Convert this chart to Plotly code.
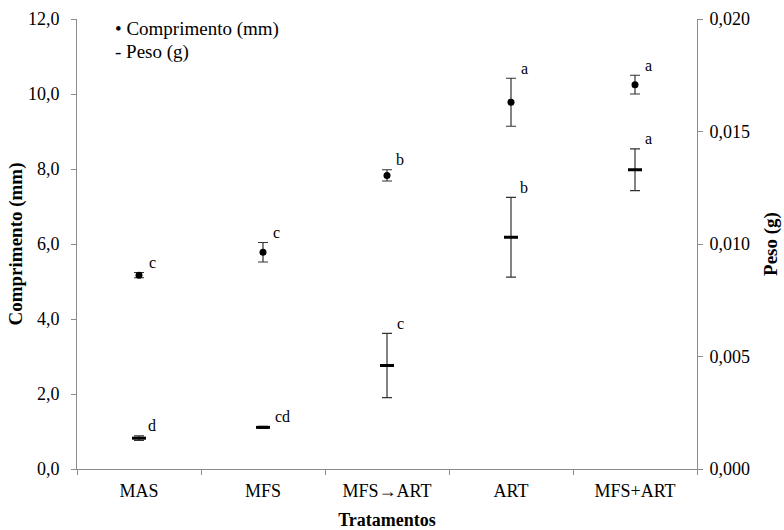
import plotly.graph_objects as go

categories = ["MAS", "MFS", "MFS→ART", "ART", "MFS+ART"]
comprimento = [5.17, 5.78, 7.83, 9.78, 10.25]
comprimento_err = [0.07, 0.26, 0.15, 0.64, 0.25]
comprimento_letras = ["c", "c", "b", "a", "a"]
peso = [0.00137, 0.00185, 0.0046, 0.0103, 0.0133]
peso_err = [0.0001, 0.00005, 0.00143, 0.00177, 0.00093]
peso_letras = ["d", "cd", "c", "b", "a"]

FONT = "Liberation Serif"
ERRC = "#333333"

fig = go.Figure()
fig.add_trace(go.Scatter(
    x=categories, y=comprimento, mode="markers",
    marker=dict(symbol="circle", size=7, color="black"),
    error_y=dict(type="data", array=comprimento_err, color=ERRC, thickness=1.2, width=5),
    showlegend=False, yaxis="y"))
fig.add_trace(go.Scatter(
    x=categories, y=peso, mode="markers",
    marker=dict(symbol="line-ew", size=10, line=dict(width=3, color="black")),
    error_y=dict(type="data", array=peso_err, color=ERRC, thickness=1.2, width=5),
    showlegend=False, yaxis="y2"))

ann = []
for c, v, e, t in zip(categories, comprimento, comprimento_err, comprimento_letras):
    ann.append(dict(x=c, y=v + e, xref="x", yref="y", text=t, showarrow=False,
                    xshift=13, yshift=10, font=dict(family=FONT, size=16, color="black")))
for c, v, e, t in zip(categories, peso, peso_err, peso_letras):
    ann.append(dict(x=c, y=v + e, xref="x", yref="y2", text=t, showarrow=False,
                    xshift=13 if len(t) == 1 else 19, yshift=10,
                    font=dict(family=FONT, size=16, color="black")))
ann.append(dict(x=0.058, y=0.978, xref="paper", yref="paper", xanchor="left", yanchor="middle",
                text="• Comprimento (mm)", showarrow=False, font=dict(family=FONT, size=19, color="black")))
ann.append(dict(x=0.058, y=0.927, xref="paper", yref="paper", xanchor="left", yanchor="middle",
                text="- Peso (g)", showarrow=False, font=dict(family=FONT, size=19, color="black")))

axis_common = dict(showgrid=False, zeroline=False, showline=True, linecolor="#8c8c8c",
                   linewidth=1, ticks="outside", ticklen=5, tickcolor="#8c8c8c",
                   automargin=False,
                   tickfont=dict(family=FONT, size=18, color="black"))

fig.update_layout(
    width=784, height=530,
    margin=dict(l=77, r=87, t=19, b=61),
    paper_bgcolor="white", plot_bgcolor="white",
    font=dict(family=FONT, color="black"),
    annotations=ann,
    xaxis=dict(**axis_common, type="category", tickson="boundaries", range=[-0.5, 4.5],
               ticklabelstandoff=5,
               title=dict(text="<b>Tratamentos</b>", font=dict(family=FONT, size=18), standoff=14)),
    yaxis=dict(**axis_common, range=[0, 12], tickvals=[0, 2, 4, 6, 8, 10, 12],
               ticktext=["0,0", "2,0", "4,0", "6,0", "8,0", "10,0", "12,0"],
               ticklabelstandoff=8,
               title=dict(text="<b>Comprimento (mm)</b>", font=dict(family=FONT, size=19), standoff=0)),
    yaxis2=dict(**axis_common, range=[0, 0.02], overlaying="y", side="right",
                tickvals=[0, 0.005, 0.01, 0.015, 0.02],
                ticktext=["0,000", "0,005", "0,010", "0,015", "0,020"],
                ticklabelstandoff=3,
                title=dict(text="<b>Peso (g)</b>", font=dict(family=FONT, size=19), standoff=14)),
)

fig.write_html("out.html")
